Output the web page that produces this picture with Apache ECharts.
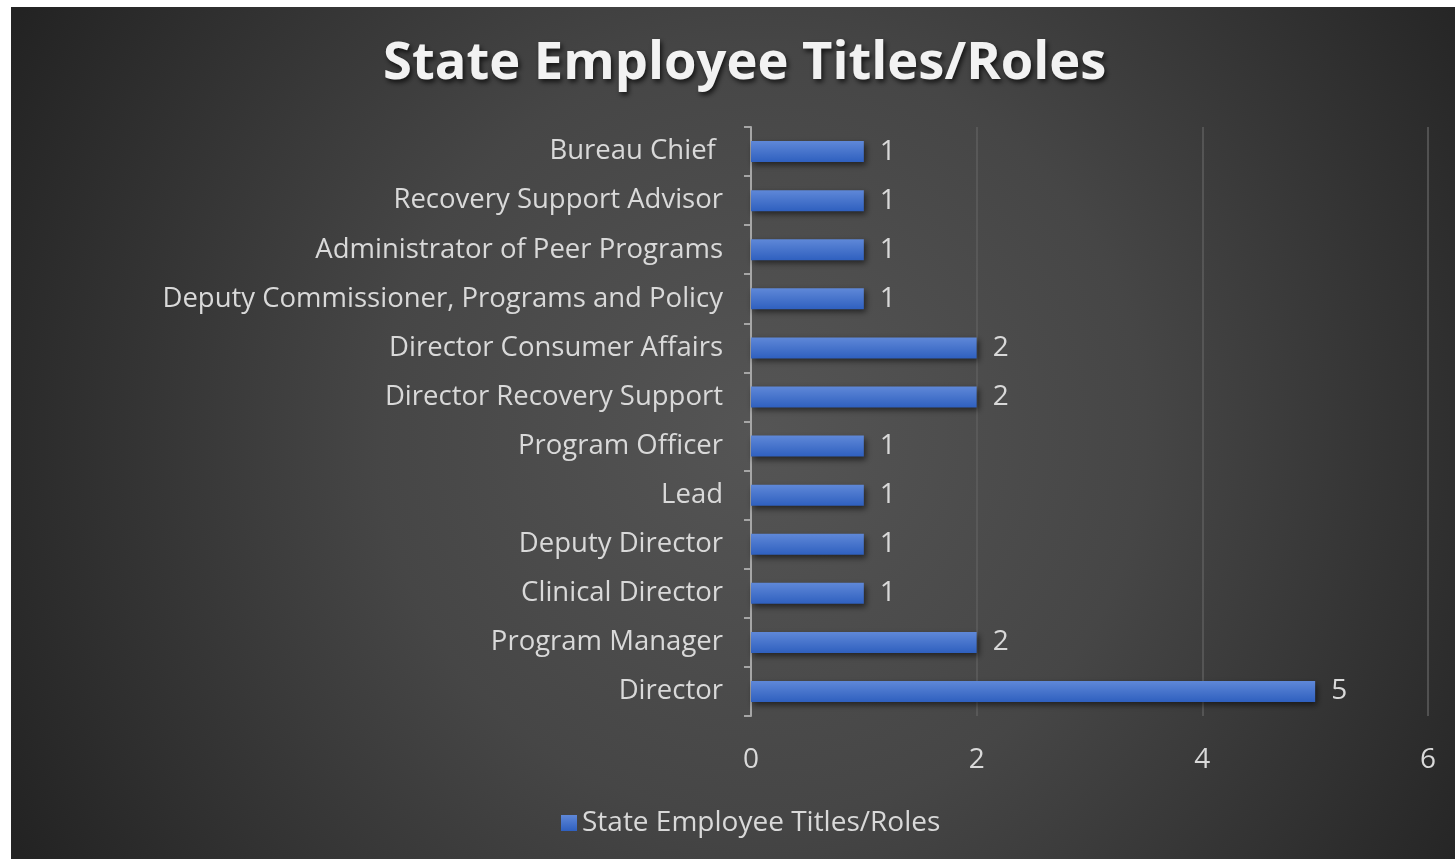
<!DOCTYPE html>
<html>
<head>
<meta charset="utf-8">
<title>State Employee Titles/Roles</title>
<script src="https://cdn.jsdelivr.net/npm/echarts@6/dist/echarts.min.js"></script>
<style>
  html, body {
    margin: 0;
    padding: 0;
    background: #ffffff;
    width: 1455px;
    height: 859px;
    overflow: hidden;
  }
  #chart {
    position: absolute;
    left: 11px;
    top: 7px;
    width: 1444px;
    height: 852px;
  }
</style>
</head>
<body>
<div id="chart"></div>
<script>
// titles listed from top to bottom as in the chart
const roles = [
  'Bureau Chief ',
  'Recovery Support Advisor',
  'Administrator of Peer Programs',
  'Deputy Commissioner, Programs and Policy',
  'Director Consumer Affairs',
  'Director Recovery Support',
  'Program Officer',
  'Lead',
  'Deputy Director',
  'Clinical Director',
  'Program Manager',
  'Director'
];
const counts = [1, 1, 1, 1, 2, 2, 1, 1, 1, 1, 2, 5];
const seriesName = 'State Employee Titles/Roles';

const textColor = '#d9d9d9';
const font = 'Open Sans';

const chart = echarts.init(document.getElementById('chart'));

const option = {
  backgroundColor: new echarts.graphic.RadialGradient(0.52, 0.5, 1.0, [
    { offset: 0, color: '#555555' },
    { offset: 0.45, color: '#464646' },
    { offset: 1, color: '#232323' }
  ]),
  textStyle: { fontFamily: font },
  title: {
    text: 'State Employee Titles/Roles',
    left: 367,
    top: 26,
    textStyle: {
      color: '#f2f2f2',
      fontSize: 52.5,
      fontWeight: 'bold',
      fontFamily: font,
      textShadowColor: 'rgba(0,0,0,0.7)',
      textShadowBlur: 5,
      textShadowOffsetX: 2,
      textShadowOffsetY: 3
    }
  },
  legend: {
    bottom: 17,
    left: 545,
    itemWidth: 16,
    itemHeight: 16,
    icon: 'rect',
    itemGap: 8,
    textStyle: { color: textColor, fontSize: 28, fontFamily: font }
  },
  grid: {
    left: 740,
    right: 27,
    top: 120,
    bottom: 143,
    containLabel: false
  },
  xAxis: {
    type: 'value',
    min: 0,
    max: 6,
    interval: 2,
    axisLine: { show: false },
    axisTick: { show: false },
    axisLabel: { color: textColor, fontSize: 28, margin: 30, fontFamily: font },
    splitLine: { show: true, lineStyle: { color: '#5e5e5e', width: 1.5 } }
  },
  yAxis: {
    type: 'category',
    inverse: true,
    data: roles,
    axisLine: { show: true, onZero: false, lineStyle: { color: '#a6a6a6', width: 2 } },
    axisTick: { show: true, length: 7, lineStyle: { color: '#a6a6a6', width: 2 } },
    axisLabel: { color: textColor, fontSize: 27.5, margin: 28, fontFamily: font, padding: [4, 0, 0, 0] }
  },
  series: [
    {
      name: seriesName,
      type: 'bar',
      data: counts,
      barWidth: 21,
      itemStyle: {
        color: new echarts.graphic.LinearGradient(0, 0, 0, 1, [
          { offset: 0, color: '#5f88d8' },
          { offset: 1, color: '#2f60bf' }
        ]),
        shadowColor: 'rgba(0,0,0,0.55)',
        shadowBlur: 6,
        shadowOffsetX: 2,
        shadowOffsetY: 3
      },
      label: {
        show: true,
        position: 'right',
        distance: 16,
        color: textColor,
        fontSize: 28,
        fontFamily: font,
        padding: [4, 0, 0, 0]
      }
    }
  ]
};

chart.setOption(option);
window.addEventListener('resize', () => chart.resize());
</script>
</body>
</html>
